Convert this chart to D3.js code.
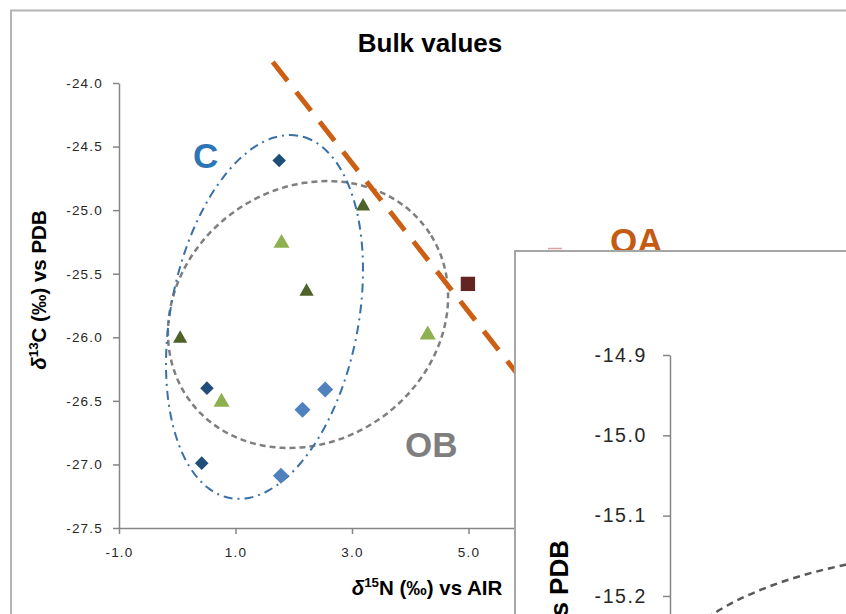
<!DOCTYPE html>
<html>
<head>
<meta charset="utf-8">
<script src="https://cdn.jsdelivr.net/npm/d3@7"></script>
<style>
  html, body { margin: 0; padding: 0; background: #fff; overflow: hidden; }
  svg { display: block; }
  text { font-family: "Liberation Sans", Arial, sans-serif; }
</style>
</head>
<body>
<svg id="chart" width="846" height="614"></svg>
<script>
// ---- Bulk δ15N / δ13C values, one array per sample group ----
const groupC_dark   = [[1.75, -24.61], [0.51, -26.40], [0.42, -26.99]];
const groupC_light  = [[2.54, -26.41], [2.15, -26.57], [1.78, -27.09]];
const groupOB_dark  = [[3.19, -24.97], [2.22, -25.64], [0.05, -26.01]];
const groupOB_light = [[1.79, -25.26], [0.76, -26.51], [4.30, -25.98]];
const groupOA       = [[4.99, -25.58]];

// ---- Axis ticks ----
const xTicks = [-1, 1, 3, 5, 7];
const xTickLabels = ["-1.0", "1.0", "3.0", "5.0", "7.0"];
const yTicks = [-24.0, -24.5, -25.0, -25.5, -26.0, -26.5, -27.0, -27.5];
const yTickLabels = ["-24.0", "-24.5", "-25.0", "-25.5", "-26.0", "-26.5", "-27.0", "-27.5"];

// Group envelopes: centre plus two conjugate half-axes (data units)
const envelopeC  = { cx: 1.498, cy: -25.840, ux: 0.594, uy: 1.424, vx: 1.583, vy: -0.138 };
const envelopeOB = { cx: 2.245, cy: -25.821, ux: 2.050, uy: 0.665, vx: 1.257, vy: -0.812 };

// Boundary separating OA from OB (two end points in data units)
const boundaryOA = [[1.64, -23.835], [7.0, -26.967]];

// Group label anchors (data units)
const groupLabels = [
  { text: "C",  x: 0.27, y: -24.67, color: "#2e75b6" },
  { text: "OB", x: 3.91, y: -26.94, color: "#7f7f7f" },
  { text: "OA", x: 7.43, y: -25.34, color: "#c55a11" }
];

// ---- Inset (zoomed panel) ----
const insetYTicks = [-14.9, -15.0, -15.1, -15.2];
const insetYTickLabels = ["-14.9", "-15.0", "-15.1", "-15.2"];
const insetEnvelope = { cx: 4.5, cy: -15.315, ux: 5.667, uy: 0, vx: 0, vy: 0.1727 };

const svg = d3.select("#chart");

// Outer chart frame
svg.append("path")
  .attr("d", "M11,620 L11,10.5 L852,10.5")
  .attr("fill", "none").attr("stroke", "#b4b4b4").attr("stroke-width", 2);

// Scales
const x = d3.scaleLinear().domain([-1, 7]).range([119, 585]);
const y = d3.scaleLinear().domain([-27.5, -24.0]).range([528, 83]);

// Title
svg.append("text")
  .attr("x", 430).attr("y", 52)
  .attr("text-anchor", "middle")
  .attr("font-size", 26).attr("font-weight", "bold").attr("fill", "#000")
  .text("Bulk values");

function styleAxis(g, fontSize, spacing) {
  g.selectAll(".domain").attr("stroke", "#868686").attr("stroke-width", 1.5);
  g.selectAll(".tick line").attr("stroke", "#868686").attr("stroke-width", 1.5);
  g.selectAll(".tick text")
    .attr("font-family", "\"Liberation Sans\", Arial, sans-serif")
    .attr("font-size", fontSize)
    .attr("letter-spacing", spacing)
    .attr("fill", "#262626");
}

// Y axis
const gy = svg.append("g").attr("transform", "translate(119,0)")
  .call(d3.axisLeft(y).tickValues(yTicks)
    .tickFormat((d, i) => yTickLabels[i])
    .tickSize(6).tickSizeOuter(0).tickPadding(10));
styleAxis(gy, 13.5, 1.2);

// X axis
const gx = svg.append("g").attr("transform", "translate(0,528)")
  .call(d3.axisBottom(x).tickValues(xTicks)
    .tickFormat((d, i) => xTickLabels[i])
    .tickSize(6).tickSizeOuter(0).tickPadding(13));
styleAxis(gx, 13.5, 1.2);

// Axis titles with italic delta and superscript mass number
function isotopeLabel(sel, iso, rest, size) {
  sel.attr("font-size", size).attr("font-weight", "bold").attr("fill", "#000");
  sel.append("tspan").attr("font-style", "italic").text("δ");
  sel.append("tspan").attr("font-size", size * 0.65).attr("dy", -size * 0.38).text(iso);
  sel.append("tspan").attr("dy", size * 0.38).text(rest);
}

isotopeLabel(
  svg.append("text").attr("text-anchor", "middle")
    .attr("transform", "translate(46,290) rotate(-90)"),
  "13", "C (‰) vs PDB", 20.5);

isotopeLabel(
  svg.append("text").attr("text-anchor", "middle").attr("x", 427).attr("y", 595),
  "15", "N (‰) vs AIR", 20.5);

// Envelope outlines
function envelopePoints(e, sx, sy) {
  return d3.range(0, 361, 3).map(a => {
    const t = a * Math.PI / 180;
    return [sx(e.cx + e.ux * Math.cos(t) + e.vx * Math.sin(t)),
            sy(e.cy + e.uy * Math.cos(t) + e.vy * Math.sin(t))];
  });
}
const line = d3.line().curve(d3.curveCardinalClosed);

svg.append("path")
  .attr("d", line(envelopePoints(envelopeOB, x, y)))
  .attr("fill", "none").attr("stroke", "#7f7f7f")
  .attr("stroke-width", 2.5).attr("stroke-dasharray", "6,4");

svg.append("path")
  .attr("d", line(envelopePoints(envelopeC, x, y)))
  .attr("fill", "none").attr("stroke", "#3a70a8")
  .attr("stroke-width", 2).attr("stroke-dasharray", "9,5,2,5");

// OA / OB boundary
svg.append("path")
  .attr("d", d3.line().x(d => x(d[0])).y(d => y(d[1]))(boundaryOA))
  .attr("fill", "none").attr("stroke", "#cc5f14")
  .attr("stroke-width", 5).attr("stroke-dasharray", "24,14");

// Markers
function drawMarkers(data, type, size, color, rotate) {
  svg.append("g").selectAll("path").data(data).join("path")
    .attr("d", d3.symbol().type(type).size(size))
    .attr("transform", d => `translate(${x(d[0])},${y(d[1])})` + (rotate ? " rotate(45)" : ""))
    .attr("fill", color);
}
drawMarkers(groupC_dark, d3.symbolSquare, 92, "#1f4e79", true);
drawMarkers(groupC_light, d3.symbolSquare, 128, "#4f81bd", true);
drawMarkers(groupOB_dark, d3.symbolTriangle, 88, "#4f6228", false);
drawMarkers(groupOB_light, d3.symbolTriangle, 112, "#8eb050", false);
drawMarkers(groupOA, d3.symbolSquare, 205, "#632523", false);

// Group labels
svg.append("g").selectAll("text").data(groupLabels).join("text")
  .attr("x", d => x(d.x)).attr("y", d => y(d.y))
  .attr("font-size", 35).attr("font-weight", "bold")
  .attr("fill", d => d.color)
  .text(d => d.text);

// Edge of a marker peeking above the inset
svg.append("line")
  .attr("x1", 548).attr("x2", 562).attr("y1", 248.5).attr("y2", 248.5)
  .attr("stroke", "#d9a3a3").attr("stroke-width", 1.5);

// ---- Inset panel ----
const inset = svg.append("g");
inset.append("rect")
  .attr("x", 515).attr("y", 251).attr("width", 400).attr("height", 400)
  .attr("fill", "#fff").attr("stroke", "#a6a6a6").attr("stroke-width", 2);

const xi = d3.scaleLinear().domain([-1, 9]).range([670, 1270]);
const yi = d3.scaleLinear().domain([-15.3, -14.9]).range([676.3, 355]);

const gyi = inset.append("g").attr("transform", "translate(670,0)")
  .call(d3.axisLeft(yi).tickValues(insetYTicks)
    .tickFormat((d, i) => insetYTickLabels[i])
    .tickSize(7).tickSizeOuter(0).tickPadding(16));
styleAxis(gyi, 19.5, 1.6);

isotopeLabel(
  inset.append("text").attr("text-anchor", "end")
    .attr("transform", "translate(568,540) rotate(-90)"),
  "13", "C (‰) vs PDB", 26);

inset.append("path")
  .attr("d", line(envelopePoints(insetEnvelope, xi, yi)))
  .attr("fill", "none").attr("stroke", "#595959")
  .attr("stroke-width", 2.5).attr("stroke-dasharray", "7,5");
</script>
</body>
</html>
